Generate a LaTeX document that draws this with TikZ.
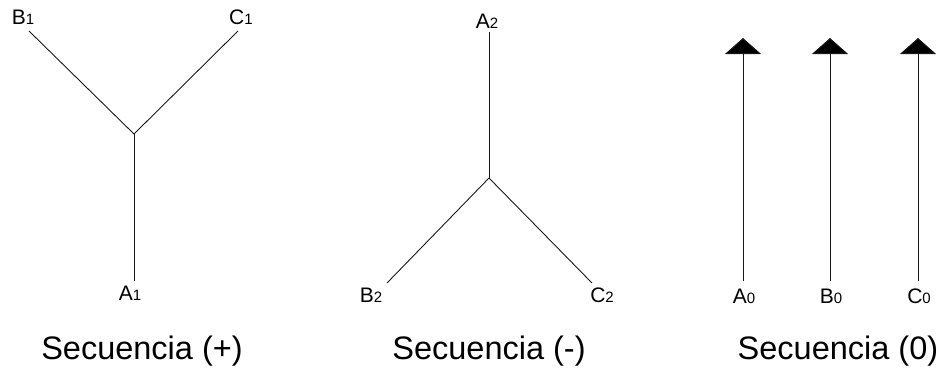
\documentclass[tikz,border=0pt]{standalone}
\usepackage{fontspec}
\setmainfont{Liberation Sans}
\usetikzlibrary{arrows.meta}
% phase label: letter with a small index beside it
\newcommand{\fase}[2]{#1{\fontsize{15}{15}\selectfont #2}}
\begin{document}
\begin{tikzpicture}[x=1pt,y=-1pt,>={Triangle[width=36pt,length=16pt]}]
		\tikzset{
			phase/.style={draw=black!90,line width=0.9pt},
			tag/.style={font=\fontsize{21}{21}\selectfont,inner sep=0pt,anchor=base},
			caption/.style={font=\fontsize{32.5}{32.5}\selectfont,inner sep=0pt,anchor=base}
		}
		\useasboundingbox (0,0) rectangle (942,373);

		% Secuencia positiva
		\coordinate (n1) at (134,134);
		\coordinate (a1) at (134,281);
		\coordinate (b1) at (29,31);
		\coordinate (c1) at (238,31);
		\node[tag] (la1) at (130,300) {\fase{A}{1}};
		\node[tag] (lb1) at (23,24) {\fase{B}{1}};
		\node[tag] (lc1) at (241,24) {\fase{C}{1}};
		\draw[phase] (n1) -- (a1);
		\draw[phase] (n1) -- (b1);
		\draw[phase] (n1) -- (c1);
		\node[caption] (cap1) at (142,359) {Secuencia (+)};

		% Secuencia negativa
		\coordinate (n2) at (489,178);
		\coordinate (a2) at (489,32);
		\coordinate (b2) at (387,283);
		\coordinate (c2) at (592,283);
		\node[tag] (la2) at (487,28) {\fase{A}{2}};
		\node[tag] (lb2) at (371,302) {\fase{B}{2}};
		\node[tag] (lc2) at (602,302) {\fase{C}{2}};
		\draw[phase] (n2) -- (a2);
		\draw[phase] (n2) -- (b2);
		\draw[phase] (n2) -- (c2);
		\node[caption] (cap2) at (489,359) {Secuencia (-)};

		% Secuencia cero
		\foreach \f/\x in {A/743,B/830,C/918}{
			\coordinate (p\f) at (\x,281);
			\coordinate (q\f) at (\x,38);
			\node[tag] (l\f0) at (\x+1,303) {\fase{\f}{0}};
			\draw[phase,->,>={Triangle[width=36pt,length=16pt,fill=black]}] (p\f) -- (q\f);
		}
		\node[caption] (cap0) at (838,359) {Secuencia (0)};
	\end{tikzpicture}
\end{document}
